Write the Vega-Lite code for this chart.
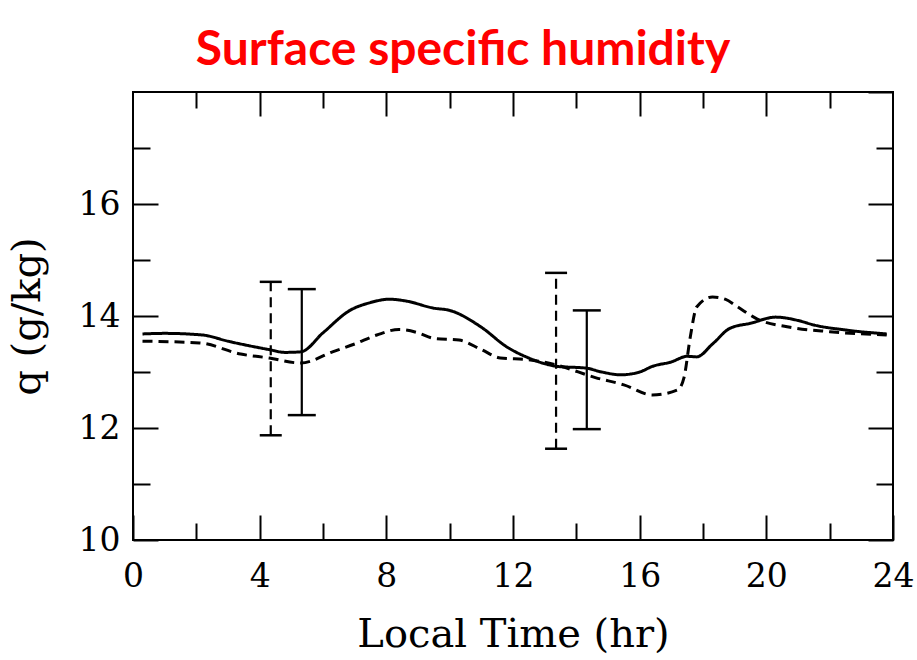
{
  "$schema": "https://vega.github.io/schema/vega-lite/v6.json",
  "width": 760,
  "height": 448,
  "autosize": {"type": "none"},
  "padding": {"left": 133, "top": 92, "right": 24, "bottom": 120},
  "background": "white",
  "title": {
    "text": "Surface specific humidity",
    "font": "Lato",
    "fontSize": 48,
    "fontWeight": "bold",
    "color": "#ff0000",
    "anchor": "middle",
    "frame": "group",
    "dx": -50,
    "dy": 47,
    "baseline": "alphabetic",
    "offset": 25
  },
  "config": {
    "view": {"stroke": "black", "strokeWidth": 2},
    "axis": {
      "domain": false,
      "grid": false,
      "tickColor": "black",
      "tickWidth": 2,
      "tickOpacity": 1,
      "labelFont": "DejaVu Serif",
      "labelFontSize": 33,
      "labelColor": "black",
      "labelFlush": false,
      "labelOverlap": false,
      "titleFont": "DejaVu Serif",
      "titleFontSize": 40,
      "titleFontWeight": "normal",
      "titleColor": "black"
    }
  },
  "datasets": {
    "lines": [
      {"t": 0.3, "q": 13.68, "series": "simulated"},
      {"t": 1.0, "q": 13.69, "series": "simulated"},
      {"t": 2.2, "q": 13.66, "series": "simulated"},
      {"t": 3.0, "q": 13.55, "series": "simulated"},
      {"t": 4.3, "q": 13.4, "series": "simulated"},
      {"t": 4.8, "q": 13.35, "series": "simulated"},
      {"t": 5.3, "q": 13.36, "series": "simulated"},
      {"t": 6.0, "q": 13.7, "series": "simulated"},
      {"t": 6.85, "q": 14.1, "series": "simulated"},
      {"t": 7.5, "q": 14.24, "series": "simulated"},
      {"t": 8.1, "q": 14.3, "series": "simulated"},
      {"t": 8.6, "q": 14.27, "series": "simulated"},
      {"t": 9.5, "q": 14.14, "series": "simulated"},
      {"t": 10.0, "q": 14.1, "series": "simulated"},
      {"t": 11.0, "q": 13.8, "series": "simulated"},
      {"t": 11.8, "q": 13.45, "series": "simulated"},
      {"t": 12.5, "q": 13.25, "series": "simulated"},
      {"t": 13.4, "q": 13.1, "series": "simulated"},
      {"t": 14.3, "q": 13.07, "series": "simulated"},
      {"t": 14.8, "q": 13.0, "series": "simulated"},
      {"t": 15.4, "q": 12.95, "series": "simulated"},
      {"t": 16.0, "q": 13.0, "series": "simulated"},
      {"t": 16.4, "q": 13.1, "series": "simulated"},
      {"t": 17.0, "q": 13.18, "series": "simulated"},
      {"t": 17.5, "q": 13.28, "series": "simulated"},
      {"t": 17.8, "q": 13.27, "series": "simulated"},
      {"t": 18.3, "q": 13.5, "series": "simulated"},
      {"t": 18.85, "q": 13.78, "series": "simulated"},
      {"t": 19.5, "q": 13.87, "series": "simulated"},
      {"t": 20.3, "q": 13.98, "series": "simulated"},
      {"t": 21.0, "q": 13.92, "series": "simulated"},
      {"t": 21.5, "q": 13.84, "series": "simulated"},
      {"t": 22.5, "q": 13.75, "series": "simulated"},
      {"t": 23.8, "q": 13.68, "series": "simulated"},
      {"t": 0.3, "q": 13.55, "series": "observed"},
      {"t": 2.1, "q": 13.52, "series": "observed"},
      {"t": 3.4, "q": 13.32, "series": "observed"},
      {"t": 4.3, "q": 13.25, "series": "observed"},
      {"t": 5.3, "q": 13.16, "series": "observed"},
      {"t": 6.3, "q": 13.36, "series": "observed"},
      {"t": 7.0, "q": 13.5, "series": "observed"},
      {"t": 7.7, "q": 13.66, "series": "observed"},
      {"t": 8.4, "q": 13.76, "series": "observed"},
      {"t": 9.0, "q": 13.7, "series": "observed"},
      {"t": 9.5, "q": 13.6, "series": "observed"},
      {"t": 10.3, "q": 13.57, "series": "observed"},
      {"t": 11.0, "q": 13.4, "series": "observed"},
      {"t": 11.6, "q": 13.25, "series": "observed"},
      {"t": 12.5, "q": 13.22, "series": "observed"},
      {"t": 13.4, "q": 13.12, "series": "observed"},
      {"t": 14.6, "q": 12.9, "series": "observed"},
      {"t": 15.5, "q": 12.77, "series": "observed"},
      {"t": 16.4, "q": 12.59, "series": "observed"},
      {"t": 17.2, "q": 12.68, "series": "observed"},
      {"t": 17.4, "q": 12.9, "series": "observed"},
      {"t": 17.6, "q": 13.63, "series": "observed"},
      {"t": 17.8, "q": 14.16, "series": "observed"},
      {"t": 18.3, "q": 14.34, "series": "observed"},
      {"t": 18.7, "q": 14.3, "series": "observed"},
      {"t": 19.1, "q": 14.16, "series": "observed"},
      {"t": 19.7, "q": 13.95, "series": "observed"},
      {"t": 20.75, "q": 13.8, "series": "observed"},
      {"t": 22.0, "q": 13.72, "series": "observed"},
      {"t": 23.8, "q": 13.66, "series": "observed"}
    ],
    "bars": [
      {"t": 4.35, "lo": 11.87, "hi": 14.61, "series": "observed"},
      {"t": 5.33, "lo": 12.23, "hi": 14.48, "series": "simulated"},
      {"t": 13.36, "lo": 11.63, "hi": 14.77, "series": "observed"},
      {"t": 14.33, "lo": 11.98, "hi": 14.1, "series": "simulated"}
    ]
  },
  "resolve": {"axis": {"x": "independent", "y": "independent"}},
  "layer": [
    {
      "data": {"name": "lines"},
      "mark": {"type": "line", "interpolate": "monotone", "color": "black", "strokeWidth": 3},
      "encoding": {
        "x": {
          "field": "t", "type": "quantitative",
          "scale": {"domain": [0, 24], "nice": false, "zero": false},
          "axis": {"orient": "bottom", "values": [0, 4, 8, 12, 16, 20, 24], "tickSize": -25, "labelPadding": 45, "title": "Local Time (hr)", "titlePadding": 21}
        },
        "y": {
          "field": "q", "type": "quantitative",
          "scale": {"domain": [10, 18], "nice": false, "zero": false},
          "axis": {"orient": "left", "values": [10, 12, 14, 16], "tickSize": -25, "labelPadding": 38, "title": "q (g/kg)", "titlePadding": 31}
        },
        "strokeDash": {
          "field": "series", "type": "nominal",
          "scale": {"domain": ["simulated", "observed"], "range": [[1, 0], [10, 6]]},
          "legend": null
        }
      }
    },
    {
      "data": {"name": "bars"},
      "mark": {"type": "rule", "color": "black", "strokeWidth": 2.2, "opacity": 1},
      "encoding": {
        "x": {
          "field": "t", "type": "quantitative",
          "scale": {"domain": [0, 24], "nice": false, "zero": false},
          "axis": {"orient": "bottom", "values": [2, 6, 10, 14, 18, 22], "tickSize": -17, "labels": false, "title": null}
        },
        "y": {
          "field": "lo", "type": "quantitative",
          "scale": {"domain": [10, 18], "nice": false, "zero": false},
          "axis": {"orient": "left", "values": [11, 13, 15, 17], "tickSize": -17, "labels": false, "title": null}
        },
        "y2": {"field": "hi"},
        "strokeDash": {
          "field": "series", "type": "nominal",
          "scale": {"domain": ["simulated", "observed"], "range": [[1, 0], [8, 4]]},
          "legend": null
        }
      }
    },
    {
      "data": {"name": "bars"},
      "mark": {"type": "tick", "orient": "horizontal", "color": "black", "thickness": 2.5, "opacity": 1},
      "encoding": {
        "x": {
          "field": "t", "type": "quantitative",
          "scale": {"domain": [0, 24], "nice": false, "zero": false},
          "axis": {"orient": "top", "values": [4, 8, 12, 16, 20], "tickSize": -24, "labels": false, "title": null}
        },
        "y": {
          "field": "hi", "type": "quantitative",
          "scale": {"domain": [10, 18], "nice": false, "zero": false},
          "axis": {"orient": "right", "values": [10, 12, 14, 16, 18], "tickSize": -25, "labels": false, "title": null}
        },
        "size": {
          "field": "series", "type": "ordinal",
          "scale": {"domain": ["simulated", "observed"], "range": [28, 22]},
          "legend": null
        }
      }
    },
    {
      "data": {"name": "bars"},
      "mark": {"type": "tick", "orient": "horizontal", "color": "black", "thickness": 2.5, "opacity": 1},
      "encoding": {
        "x": {
          "field": "t", "type": "quantitative",
          "scale": {"domain": [0, 24], "nice": false, "zero": false},
          "axis": {"orient": "top", "values": [2, 6, 10, 14, 18, 22], "tickSize": -16, "labels": false, "title": null}
        },
        "y": {
          "field": "lo", "type": "quantitative",
          "scale": {"domain": [10, 18], "nice": false, "zero": false},
          "axis": {"orient": "right", "values": [11, 13, 15, 17], "tickSize": -17, "labels": false, "title": null}
        },
        "size": {
          "field": "series", "type": "ordinal",
          "scale": {"domain": ["simulated", "observed"], "range": [28, 22]},
          "legend": null
        }
      }
    }
  ]
}
